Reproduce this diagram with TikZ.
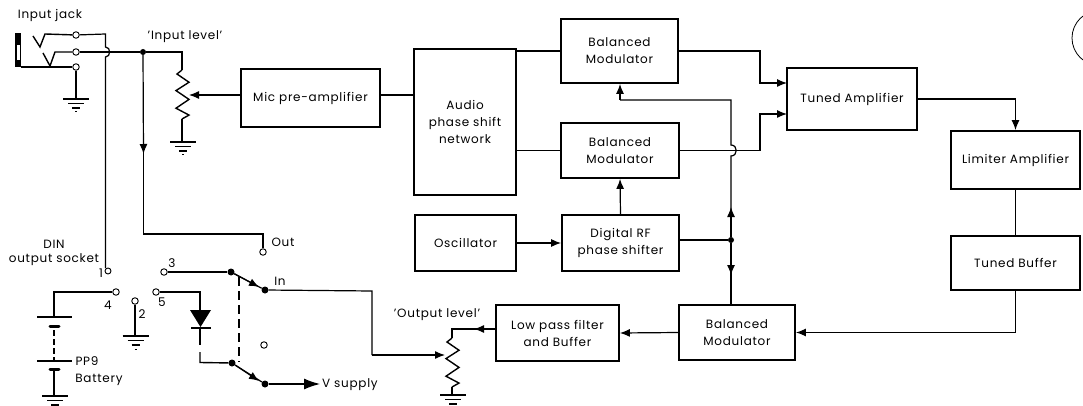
\documentclass[tikz,border=0pt]{standalone}
\usepackage{fontspec}
\setmainfont{Poppins}[LetterSpace=6]
\usetikzlibrary{arrows.meta}
\tikzset{
  x=1pt,y=-1pt,
  wire/.style={line width=1.2pt,line join=miter},
  arr/.style={wire,-{Latex[length=10pt,width=8pt]}},
  box/.style={draw,line width=1.8pt,inner sep=0pt,align=center,font=\fontsize{12}{17}\selectfont},
  lab/.style={inner sep=0pt,align=center,font=\fontsize{12}{16}\selectfont},
  term/.style={circle,draw,line width=.9pt,fill=white,minimum size=6.5pt,inner sep=0pt},
  dotn/.style={circle,fill=black,minimum size=7pt,inner sep=0pt},
  junc/.style={circle,fill=black,minimum size=6pt,inner sep=0pt},
  plate/.style={line width=1.4pt},
  cell/.style={line width=3pt,line cap=round},
}
\newcommand{\gnd}[2]{%
  \draw[line width=1.3pt] (#1-13,#2) -- (#1+13,#2);
  \draw[line width=1.1pt] (#1-8,#2+4.5) -- (#1+8,#2+4.5);
  \draw[line width=1.1pt] (#1-4,#2+9) -- (#1+4,#2+9);
  \draw[line width=1pt] (#1-1,#2+13) -- (#1+1,#2+13);}
\newcommand{\zig}[3]{% x, top, bottom
  \draw[wire,line width=1.4pt] (#1,#2) -- (#1-5,#2+4) -- (#1+7,{#2+(#3-#2)*.25}) -- (#1-6,{#2+(#3-#2)*.42})
   -- (#1+7,{#2+(#3-#2)*.6}) -- (#1-6,{#2+(#3-#2)*.78}) -- (#1+7,{#2+(#3-#2)*.92}) -- (#1,#3);}
\begin{document}
\begin{tikzpicture}
\useasboundingbox (0,0) rectangle (1083,406);
% blocks
\node[box,minimum width=139pt,minimum height=58pt] (mic) at (310.5,98) {Mic pre-amplifier};
\node[box,minimum width=102pt,minimum height=146pt] (audio) at (465,122) {Audio\\phase shift\\network};
\node[box,minimum width=117pt,minimum height=64pt] (bm1) at (619.5,51) {Balanced\\Modulator};
\node[box,minimum width=118pt,minimum height=55pt] (bm2) at (620,150.5) {Balanced\\Modulator};
\node[box,minimum width=101pt,minimum height=56pt] (osc) at (465.5,243) {Oscillator};
\node[box,minimum width=117pt,minimum height=56pt] (rf) at (620.5,243) {Digital RF\\phase shifter};
\node[box,minimum width=130pt,minimum height=62pt] (tuned) at (852,99) {Tuned Amplifier};
\node[box,minimum width=129pt,minimum height=58pt] (lim) at (1015.5,160) {Limiter Amplifier};
\node[box,minimum width=129pt,minimum height=54pt] (buf) at (1015.5,263) {Tuned Buffer};
\node[box,minimum width=116pt,minimum height=55pt] (bm3) at (737,332.5) {Balanced\\Modulator};
\node[box,minimum width=123pt,minimum height=56pt] (lpf) at (557.5,333) {Low pass filter\\and Buffer};
% block connectors
\coordinate (w1) at (189,95);
\draw[arr] (mic.west |- w1) -- (w1);
\draw[wire] (mic.east |- 0,95) -- (audio.west |- 0,95);
\draw[wire] (audio.east |- bm1) -- (bm1.west);
\draw[wire] (audio.east |- bm2) -- (bm2.west);
\coordinate (t1) at (787,83);\coordinate (t2) at (787,114);
\draw[arr] (bm1.east) -- (760,51) -- (760,83) -- (t1);
\draw[arr] (bm2.east) -- (760,150.5) -- (760,114) -- (t2);
\draw[arr] (osc.east) -- (rf.west);
\draw[arr] (rf.north) -- (bm2.south);
\node[junc] (j) at (731,240) {};
\draw[wire] (rf.east |- j) -- (j);
\coordinate (fb) at (620,100);
\draw[wire] (j) -- (731,156) .. controls (738,156) and (738,145) .. (731,145) -- (731,100) -- (fb);
\draw[arr] (fb) -- (bm1.south -| fb);
\draw[arr] (j) -- (731,207);
\draw[arr] (j) -- (731,275);
\draw[wire] (731,270) -- (bm3.north -| j);
\draw[arr] (tuned.east) -- (1015.5,99) -- (lim.north);
\draw[wire] (lim.south) -- (buf.north);
\draw[arr] (buf.south) -- (1015.5,332.5) -- (bm3.east);
\draw[arr] (bm3.west) -- (lpf.east);
% output level
\coordinate (o1) at (452,329);
\draw[arr] (lpf.west |- o1) -- (474,329);
\draw[wire] (477,329) -- (o1) -- (452,338);
\zig{452}{338}{387}
\draw[wire] (452,387) -- (452,395);
\gnd{453}{395}
% input jack
\fill (15,33) rectangle (21,67);
\fill[white] (17,45) rectangle (19.5,60);
\node[term] (ja) at (76,35) {};
\node[term] (jb) at (76,52) {};
\node[term] (jc) at (76,67) {};
\draw[wire] (21,67) -- (jc);
\draw[wire,line width=1.4pt] (33,36) -- (40,47) -- (45,34) -- (ja);
\draw[wire,line width=1.4pt] (43,53) -- (50,66) -- (55,52) -- (jb);
\draw[wire] (jc) -- (76,98);
\gnd{76}{99}
\node[junc] (in) at (143,52) {};
\draw[wire] (jb) -- (in);
\draw[wire] (in) -- (182,52) -- (182,70);
\zig{182}{70}{119}
\draw[wire] (182,119) -- (182,141);
\gnd{183}{142}
% din 1
\node[term,minimum size=6pt] (d1) at (108,271) {};
\draw[wire] (ja) -- (105.5,34) -- (105.5,47) .. controls (111,47) and (111,57) .. (105.5,57) -- (105.5,268);
% out
\node[term] (out) at (263,252) {};
\draw[arr] (in) -- (143.5,154);
\draw[wire] (143.5,150) -- (143.5,234) -- (263,234) -- (out);
% din terminals
\node[term] (d3) at (164,272) {};
\node[term] (d4) at (116,292) {};
\node[term] (d2) at (135,301) {};
\node[term] (d5) at (156,292) {};
\node[term] (sw) at (264,345) {};
\node[dotn] (s1) at (231,272) {};
\node[dotn] (s2) at (265,290) {};
\node[dotn] (s3) at (232,363) {};
\node[dotn] (s4) at (265,384) {};
\draw[wire] (d3) -- (s1);
\draw[wire] (s1) -- (s2);
\draw[arr] (s1) -- (259,287);
\draw[wire] (s3) -- (s4);
\draw[arr] (s3) -- (259,381);
\draw[wire,dashed,dash pattern=on 9pt off 5pt] (239,277) -- (239,362);
\coordinate (vs) at (320,384);
\draw[wire] (s4) -- (305,384);
\draw[arr,-{Latex[length=16pt,width=11pt]}] (300,384) -- (vs);
\draw[wire] (s2) -- (372,291) -- (372,355);
\draw[arr] (372,355) -- (445,355);
% diode
\draw[wire] (d5) -- (200,292) -- (200,310);
\fill (190,310) -- (211,310) -- (200.5,327) -- cycle;
\draw[line width=1.8pt] (191,328) -- (211,328);
\draw[wire,line width=1.4pt] (200,328) -- (200,345);
\draw[wire,line width=1.4pt] (200,352) -- (200,362.5) -- (s3);
% ground 2
\draw[wire] (d2) -- (135,335);
\gnd{135.5}{336}
% battery
\draw[wire] (d4) -- (54,292) -- (54,317);
\draw[plate] (37,317) -- (72,317);
\draw[cell] (50,326) -- (59,326);
\draw[wire,dashed,dash pattern=on 6pt off 3pt] (54,330) -- (54,361);
\draw[plate] (37,361) -- (72,361);
\draw[cell] (50,369) -- (59,369);
\draw[wire,line width=1.5pt] (54,369) -- (54,395);
\gnd{55}{396}
% labels
\node[lab] (t1a) at (50,15) {Input jack};
\node[lab] (t1b) at (185,37) {'Input level'};
\node[lab] (t1c) at (54,244) {DIN};
\node[lab] (t1d) at (54,260) {output socket};
\node[lab] (t1e) at (101,273) {1};
\node[lab] (t1f) at (172,263) {3};
\node[lab] (t1g) at (108,305) {4};
\node[lab] (t1h) at (162,302) {5};
\node[lab] (t1i) at (142,314) {2};
\node[lab] (t1j) at (283,242) {Out};
\node[lab] (t1k) at (280,281) {In};
\node[lab] (t1l) at (87,361) {PP9};
\node[lab] (t1m) at (99,380) {Battery};
\node[lab] (t1n) at (437,315) {'Output level'};
\node[lab,anchor=west] (t1o) at (322,385) {V supply};
% arc at the edge
\begin{scope}
\clip (0,0) rectangle (1083,406);
\draw[line width=.8pt] (1099.5,38) circle (27.5);
\end{scope}
\end{tikzpicture}
\end{document}
